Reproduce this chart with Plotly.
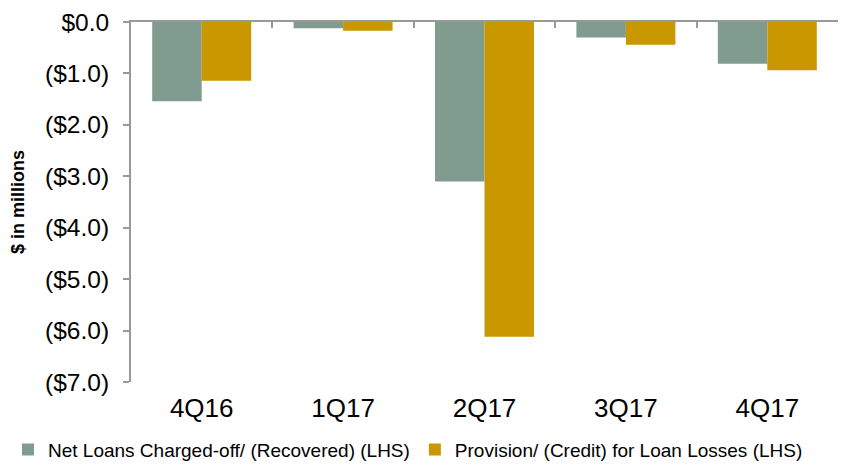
import plotly.graph_objects as go

categories = ["4Q16", "1Q17", "2Q17", "3Q17", "4Q17"]
net_charged_off = [-1.54, -0.12, -3.10, -0.30, -0.81]
provision = [-1.14, -0.17, -6.12, -0.44, -0.94]
tick_vals = [0, -1, -2, -3, -4, -5, -6, -7]
tick_text = ["$0.0", "($1.0)", "($2.0)", "($3.0)", "($4.0)", "($5.0)", "($6.0)", "($7.0)"]

fig = go.Figure()
fig.add_trace(go.Bar(x=categories, y=net_charged_off, name="Net Loans Charged-off/ (Recovered) (LHS)",
                     marker=dict(color="#7f9c8f", line=dict(width=0))))
fig.add_trace(go.Bar(x=categories, y=provision, name="Provision/ (Credit) for Loan Losses (LHS)",
                     marker=dict(color="#c99700", line=dict(width=0))))
# invisible trace to draw the top axis line with boundary ticks
fig.add_trace(go.Scatter(x=categories, y=[None]*5, xaxis="x2", showlegend=False, hoverinfo="skip"))

font_family = "Liberation Sans, Arial, sans-serif"
fig.update_layout(
    width=842, height=459,
    margin=dict(l=123, r=12, t=14, b=85, autoexpand=False),
    plot_bgcolor="white", paper_bgcolor="white",
    barmode="group", bargap=0.3, bargroupgap=0,
    font=dict(family=font_family, color="#000000"),
    xaxis=dict(type="category", showline=False, ticks="", showgrid=False, zeroline=False,
               tickfont=dict(size=26), ticklabelstandoff=8, automargin=False),
    xaxis2=dict(type="category", overlaying="x", side="top", showline=True, linecolor="#999999",
                linewidth=2, ticks="inside", ticklen=6, tickcolor="#999999", tickwidth=2,
                tickson="boundaries", showticklabels=False, showgrid=False, matches="x",
                automargin=False),
    yaxis=dict(range=[-7, 0], tickvals=tick_vals, ticktext=tick_text, showline=True,
               linecolor="#999999", linewidth=2, ticks="outside", ticklen=6, tickcolor="#999999",
               tickwidth=2, showgrid=False, zeroline=False, tickfont=dict(size=24.5),
               ticklabelstandoff=9, automargin=False, ticklabeloverflow="allow",
               title=dict(text="<b>$ in millions</b>", font=dict(size=18), standoff=16)),
    legend=dict(orientation="h", x=-0.174, xanchor="left",
                y=-0.135, yanchor="top",
                font=dict(size=19), itemwidth=30, traceorder="normal"),
    showlegend=True,
)
fig.write_html("out.html")
